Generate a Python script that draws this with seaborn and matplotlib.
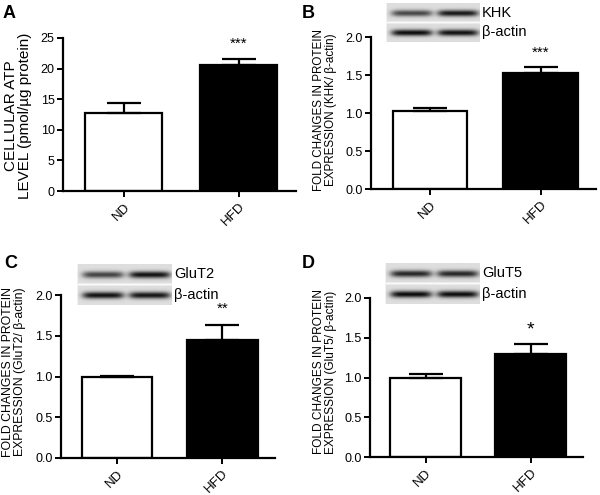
import numpy as np
import pandas as pd
import seaborn as sns
import matplotlib.pyplot as plt

groups = ['ND', 'HFD']

atp_mean = [12.7, 20.6]
atp_sem = [1.6, 1.0]
khk_mean = [1.02, 1.52]
khk_sem = [0.04, 0.08]
glut2_mean = [0.99, 1.45]
glut2_sem = [0.02, 0.18]
glut5_mean = [1.00, 1.30]
glut5_sem = [0.05, 0.12]

stars = ['***', '***', '**', '*']
panel_letters = ['A', 'B', 'C', 'D']
blot_names = [None, 'KHK', 'GluT2', 'GluT5']
# band darkness (ND, HFD) for target row and beta-actin row
blot_bands = [None,
              ([0.7, 0.92], [0.97, 0.95]),
              ([0.72, 0.95], [0.95, 0.93]),
              ([0.85, 0.85], [0.98, 0.97])]

ylabels = ['CELLULAR ATP\nLEVEL (pmol/\u00b5g protein)',
           'FOLD CHANGES IN PROTEIN\nEXPRESSION (KHK/ \u03b2-actin)',
           'FOLD CHANGES IN PROTEIN\nEXPRESSION (GluT2/ \u03b2-actin)',
           'FOLD CHANGES IN PROTEIN\nEXPRESSION (GluT5/ \u03b2-actin)']

sns.set_style('ticks', {'axes.edgecolor': 'black', 'xtick.color': 'black', 'ytick.color': 'black',
                        'text.color': 'black', 'axes.labelcolor': 'black'})
plt.rcParams['font.family'] = ['Liberation Sans', 'DejaVu Sans']

W, H = 600, 495
fig = plt.figure(figsize=(6, 4.95), dpi=100)


def px_axes(x0, y0, x1, y1):
    return fig.add_axes([x0 / W, 1 - y1 / H, (x1 - x0) / W, (y1 - y0) / H])


def make_blot(strengths):
    top, bot = strengths
    h, w = 40, 96
    img = np.full((h, w), 0.87)
    img[19:21, :] = 0.98
    img[:, :1] = 0.95
    yy, xx = np.mgrid[0:h, 0:w]
    centers_x = [26, 73]
    for row, (cy, vals) in enumerate([(10, top), (30, bot)]):
        for cx, v in zip(centers_x, vals):
            shape = np.exp(-((yy - cy) / 3.3) ** 2) * np.exp(-((xx - cx) / 21.0) ** 6)
            img -= v * 0.85 * shape
    return np.clip(img, 0, 1)


means = [atp_mean, khk_mean, glut2_mean, glut5_mean]
sems = [atp_sem, khk_sem, glut2_sem, glut5_sem]
ylims = [(0, 25), (0, 2.0), (0, 2.0), (0, 2.0)]
yticks = [np.arange(0, 26, 5), np.arange(0, 2.01, 0.5), np.arange(0, 2.01, 0.5), np.arange(0, 2.01, 0.5)]
rects = [(63, 38, 296, 191), (371, 37, 596, 189), (61, 295, 275, 458), (370, 298, 583, 457)]
blot_rects = [None, (386, 3, 480, 42), (77, 264, 172, 305), (385, 263, 480, 304)]
letter_pos = [(3, 13), (302, 14), (4, 263), (302, 263)]
star_y = [44, 53, 309, 330]
label_pos = [(18, 116), (325, 110), (14, 372), (325, 372)]
label_size = [11, 8.4, 8.8, 8.6]

for i in range(4):
    ax = px_axes(*rects[i])
    df = pd.DataFrame({'group': groups, 'value': means[i]})
    sns.barplot(data=df, x='group', y='value', hue='group', palette=['white', 'black'],
                edgecolor='black', linewidth=1.6, width=0.67, legend=False, ax=ax)
    ax.errorbar([0, 1], means[i], yerr=[[0, 0], sems[i]], fmt='none', ecolor='black',
                elinewidth=1.6, capsize=12, capthick=1.6)
    ax.set_xlim(-0.53, 1.5)
    ax.set_ylim(*ylims[i])
    ax.set_yticks(yticks[i])
    if i == 0:
        ax.set_yticklabels([str(int(t)) for t in yticks[i]])
    else:
        ax.set_yticklabels(['%.1f' % t for t in yticks[i]])
    ax.set_xlabel('')
    ax.set_ylabel('')
    ax.set_xticks([0, 1])
    ax.set_xticklabels(groups, rotation=45, ha='right', rotation_mode='anchor', fontsize=9.5)
    ax.tick_params(axis='y', labelsize=9, width=1.4, length=4, pad=2)
    ax.tick_params(axis='x', width=1.4, length=4, pad=3)
    sns.despine(ax=ax)
    for s in ['left', 'bottom']:
        ax.spines[s].set_linewidth(1.6)

    # two-line y label placed by hand
    fig.text(label_pos[i][0] / W, 1 - label_pos[i][1] / H, ylabels[i], rotation=90,
             ha='center', va='center', multialignment='center', linespacing=1.0,
             fontsize=label_size[i])

    fig.text(ax.get_position().x0 + ax.get_position().width * (1.0 + 0.53) / 2.03, 1 - star_y[i] / H,
             stars[i], ha='center', va='center', fontsize=11 if i < 3 else 14)
    fig.text(letter_pos[i][0] / W, 1 - letter_pos[i][1] / H, panel_letters[i],
             fontsize=13, fontweight='bold', va='center', ha='left')

    if blot_rects[i] is not None:
        bx0, by0, bx1, by1 = blot_rects[i]
        bax = px_axes(*blot_rects[i])
        bax.imshow(make_blot(blot_bands[i]), cmap='gray', vmin=0, vmax=1, aspect='auto',
                   interpolation='bilinear')
        bax.axis('off')
        fig.text((bx1 + 2) / W, 1 - (by0 + 10) / H, blot_names[i], fontsize=10.5, va='center')
        fig.text((bx1 + 2) / W, 1 - (by1 - 10) / H, '\u03b2-actin', fontsize=10.5, va='center')

fig.savefig('out.png', dpi=100)
